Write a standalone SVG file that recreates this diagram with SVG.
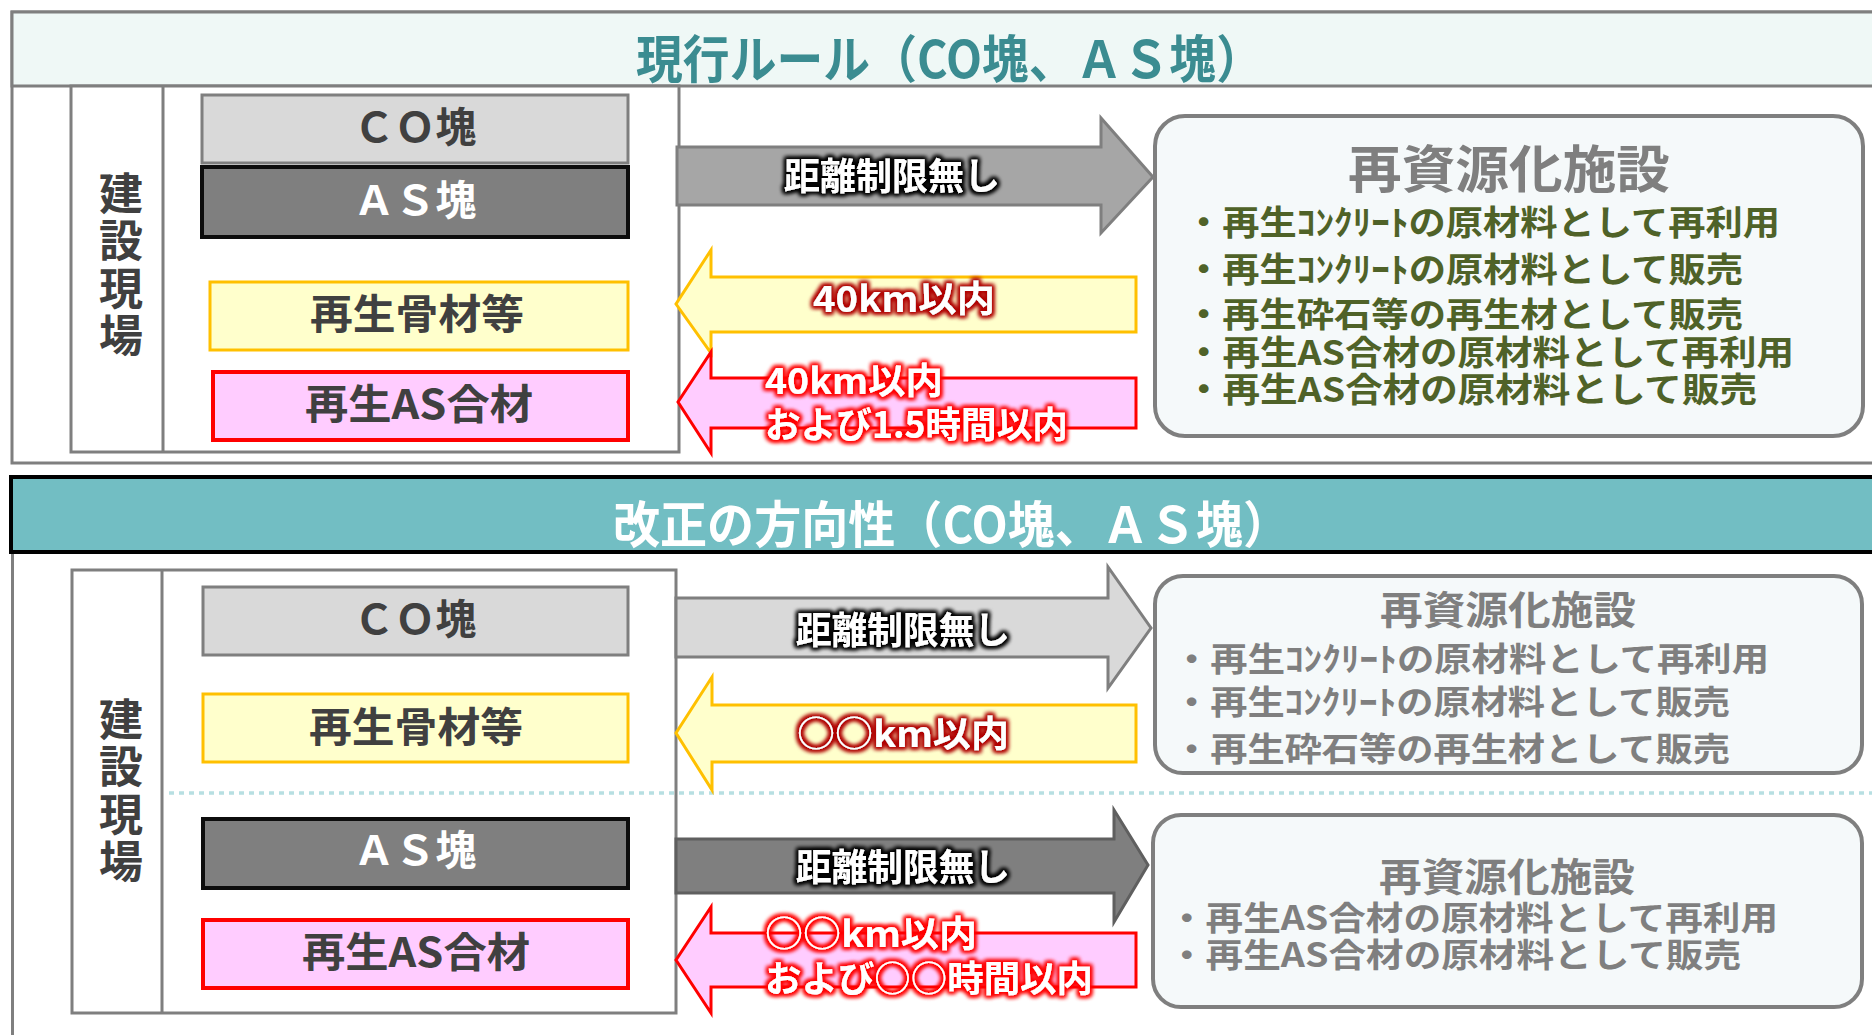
<svg xmlns="http://www.w3.org/2000/svg" width="1872" height="1035" viewBox="0 0 1872 1035">
<defs>
<style>
text{font-family:"Noto Sans CJK JP","Noto Sans",sans-serif;}
.frame{fill:none;stroke:#7f7f7f;stroke-width:3;}
.site{fill:#fff;stroke:#7f7f7f;stroke-width:3;}
.co{fill:#d9d9d9;stroke:#7f7f7f;stroke-width:3;}
.as{fill:#7f7f7f;stroke:#0d0d0d;stroke-width:4;}
.agg{fill:#ffffcc;stroke:#ffc000;stroke-width:3;}
.asm{fill:#ffccff;stroke:#ff0000;stroke-width:4;}
.fac{fill:#f5f9fa;stroke:#7f7f7f;stroke-width:4;}
.lbl{font-size:41px;font-weight:700;fill:#404040;text-anchor:middle;}
.lblw{font-size:41px;font-weight:700;fill:#ffffff;text-anchor:middle;}
.vert{font-size:44px;font-weight:700;fill:#404040;writing-mode:vertical-rl;letter-spacing:3.5px;}
.arrK{font-size:37px;font-weight:700;fill:#ffffff;text-anchor:middle;}
.arrR{font-size:36px;font-weight:700;fill:#ffffff;}
.ftitle{font-weight:700;fill:#7f7f7f;text-anchor:middle;}
.fg{font-size:34px;font-weight:700;fill:#4f6228;}
.fgr{font-size:33px;font-weight:700;fill:#7f7f7f;}
</style>
<filter id="glowK" x="-20%" y="-50%" width="140%" height="200%">
<feMorphology in="SourceAlpha" operator="dilate" radius="2" result="d"/>
<feGaussianBlur in="d" stdDeviation="2.2" result="b"/>
<feFlood flood-color="#000000"/>
<feComposite in2="b" operator="in" result="g"/>
<feMerge><feMergeNode in="g"/><feMergeNode in="g"/><feMergeNode in="SourceGraphic"/></feMerge>
</filter>
<filter id="glowDR" x="-20%" y="-50%" width="140%" height="200%">
<feMorphology in="SourceAlpha" operator="dilate" radius="2" result="d"/>
<feGaussianBlur in="d" stdDeviation="2.2" result="b"/>
<feFlood flood-color="#b00000"/>
<feComposite in2="b" operator="in" result="g"/>
<feMerge><feMergeNode in="g"/><feMergeNode in="g"/><feMergeNode in="SourceGraphic"/></feMerge>
</filter>
<filter id="glowR" x="-20%" y="-50%" width="140%" height="200%">
<feMorphology in="SourceAlpha" operator="dilate" radius="2" result="d"/>
<feGaussianBlur in="d" stdDeviation="2.2" result="b"/>
<feFlood flood-color="#ff0000"/>
<feComposite in2="b" operator="in" result="g"/>
<feMerge><feMergeNode in="g"/><feMergeNode in="g"/><feMergeNode in="SourceGraphic"/></feMerge>
</filter>
</defs>
<rect x="0" y="0" width="1872" height="1035" fill="#ffffff"/>

<!-- Section 1 frame and header -->
<g id="section1-header">
<rect x="12" y="12" width="1880" height="451" class="frame"/>
<rect x="12" y="12" width="1880" height="74" fill="#eff8f6" stroke="#7f7f7f" stroke-width="3"/>
<text x="636" y="78" font-size="51" font-weight="700" fill="#3b8c91" textLength="627" lengthAdjust="spacingAndGlyphs">現行ルール（CO塊、ＡＳ塊）</text>
</g>

<g id="site1">
<rect x="71" y="86" width="608" height="366" class="site"/>
<line x1="163" y1="86" x2="163" y2="452" stroke="#7f7f7f" stroke-width="3"/>
<text class="vert" x="121" y="171">建設現場</text>
</g>
<g id="co1"><rect x="202" y="95" width="426" height="68" class="co"/><text class="lbl" x="415" y="142">ＣＯ塊</text></g>
<g id="as1"><rect x="202" y="167" width="426" height="70" class="as"/><text class="lblw" x="415" y="215">ＡＳ塊</text></g>
<g id="agg1"><rect x="210" y="282" width="418" height="68" class="agg"/><text class="lbl" x="417" y="329" textLength="214" lengthAdjust="spacingAndGlyphs">再生骨材等</text></g>
<g id="asm1"><rect x="213" y="372" width="415" height="68" class="asm"/><text class="lbl" x="419" y="419" textLength="228" lengthAdjust="spacingAndGlyphs">再生AS合材</text></g>

<g id="facility1">
<rect x="1155" y="116" width="708" height="320" rx="30" class="fac"/>
<text class="ftitle" x="1509" y="188" font-size="51" textLength="322" lengthAdjust="spacingAndGlyphs">再資源化施設</text>
<text class="fg" x="1185" y="235" textLength="595" lengthAdjust="spacingAndGlyphs">・再生ｺﾝｸﾘｰﾄの原材料として再利用</text>
<text class="fg" x="1185" y="282" textLength="558" lengthAdjust="spacingAndGlyphs">・再生ｺﾝｸﾘｰﾄの原材料として販売</text>
<text class="fg" x="1185" y="327" textLength="558" lengthAdjust="spacingAndGlyphs">・再生砕石等の再生材として販売</text>
<text class="fg" x="1185" y="365" textLength="609" lengthAdjust="spacingAndGlyphs">・再生AS合材の原材料として再利用</text>
<text class="fg" x="1185" y="402" textLength="572" lengthAdjust="spacingAndGlyphs">・再生AS合材の原材料として販売</text>
</g>

<!-- Section 2 frame and header -->
<g id="section2-header">
<line x1="12.5" y1="552" x2="12.5" y2="1040" stroke="#7f7f7f" stroke-width="3"/>
<rect x="11" y="477" width="1880" height="75" fill="#72bec3" stroke="#000000" stroke-width="4"/>
<text x="613" y="543" font-size="50" font-weight="700" fill="#ffffff" textLength="677" lengthAdjust="spacingAndGlyphs">改正の方向性（CO塊、ＡＳ塊）</text>
</g>

<g id="site2">
<rect x="72" y="570" width="604" height="443" class="site"/>
<line x1="162" y1="570" x2="162" y2="1013" stroke="#7f7f7f" stroke-width="3"/>
<text class="vert" x="121" y="697">建設現場</text>
</g>
<line id="divider" x1="169" y1="793" x2="1872" y2="793" stroke="#b7dfe2" stroke-width="3.5" stroke-dasharray="5 5"/>
<g id="co2"><rect x="203" y="587" width="425" height="68" class="co"/><text class="lbl" x="415" y="634" font-size="39">ＣＯ塊</text></g>
<g id="agg2"><rect x="203" y="694" width="425" height="68" class="agg"/><text class="lbl" x="416" y="742" textLength="214" lengthAdjust="spacingAndGlyphs">再生骨材等</text></g>
<g id="as2"><rect x="203" y="819" width="425" height="69" class="as"/><text class="lblw" x="415" y="865" font-size="39">ＡＳ塊</text></g>
<g id="asm2"><rect x="203" y="920" width="425" height="68" class="asm"/><text class="lbl" x="416" y="967" textLength="228" lengthAdjust="spacingAndGlyphs">再生AS合材</text></g>

<g id="facility2a">
<rect x="1155" y="576" width="707" height="197" rx="28" class="fac"/>
<text class="ftitle" x="1508" y="624" font-size="39" textLength="256" lengthAdjust="spacingAndGlyphs">再資源化施設</text>
<text class="fgr" x="1173" y="671" textLength="596" lengthAdjust="spacingAndGlyphs">・再生ｺﾝｸﾘｰﾄの原材料として再利用</text>
<text class="fgr" x="1173" y="714" textLength="557" lengthAdjust="spacingAndGlyphs">・再生ｺﾝｸﾘｰﾄの原材料として販売</text>
<text class="fgr" x="1173" y="761" textLength="557" lengthAdjust="spacingAndGlyphs">・再生砕石等の再生材として販売</text>
</g>
<g id="facility2b">
<rect x="1153" y="815" width="709" height="192" rx="28" class="fac"/>
<text class="ftitle" x="1507" y="891" font-size="39" textLength="256" lengthAdjust="spacingAndGlyphs">再資源化施設</text>
<text class="fgr" x="1168" y="930" textLength="610" lengthAdjust="spacingAndGlyphs">・再生AS合材の原材料として再利用</text>
<text class="fgr" x="1168" y="967" textLength="573" lengthAdjust="spacingAndGlyphs">・再生AS合材の原材料として販売</text>
</g>

<g id="connectors">
<g id="arrow1-co-as">
<polygon points="677,147 1101,147 1101,118 1153,177 1101,233 1101,205 677,205" fill="#a6a6a6" stroke="#7f7f7f" stroke-width="3" stroke-linejoin="miter"/>
<text class="arrK" x="892" y="190" textLength="216" lengthAdjust="spacingAndGlyphs" filter="url(#glowK)">距離制限無し</text>
</g>
<g id="arrow1-agg">
<polygon points="1136,277 711,277 711,250 676,304 711,353 711,332 1136,332" fill="#ffffcc" stroke="#ffc000" stroke-width="3"/>
<text class="arrR" x="904" y="312" text-anchor="middle" textLength="182" lengthAdjust="spacingAndGlyphs" filter="url(#glowDR)">40km以内</text>
</g>
<g id="arrow1-asm">
<polygon points="1136,378 711,378 711,352 678,402 711,453 711,428 1136,428" fill="#ffccff" stroke="#ff0000" stroke-width="3"/>
<text class="arrR" x="765" y="394" textLength="178" lengthAdjust="spacingAndGlyphs" filter="url(#glowR)">40km以内</text>
<text class="arrR" x="765" y="438" textLength="303" lengthAdjust="spacingAndGlyphs" filter="url(#glowR)">および1.5時間以内</text>
</g>
<g id="arrow2-co">
<polygon points="676,598 1108,598 1108,567 1151,628 1108,688 1108,657 676,657" fill="#d9d9d9" stroke="#7f7f7f" stroke-width="3"/>
<text class="arrK" x="903" y="644" textLength="214" lengthAdjust="spacingAndGlyphs" filter="url(#glowK)">距離制限無し</text>
</g>
<g id="arrow2-agg">
<polygon points="1136,705 712,705 712,677 676,733 712,790 712,762 1136,762" fill="#ffffcc" stroke="#ffc000" stroke-width="3"/>
<text class="arrR" x="903" y="747" text-anchor="middle" textLength="212" lengthAdjust="spacingAndGlyphs" filter="url(#glowDR)">○○km以内</text>
</g>
<g id="arrow2-as">
<polygon points="676,839 1114,839 1114,810 1148,865 1114,922 1114,893 676,893" fill="#7f7f7f" stroke="#5f5f5f" stroke-width="3"/>
<text class="arrK" x="903" y="881" textLength="214" lengthAdjust="spacingAndGlyphs" filter="url(#glowK)">距離制限無し</text>
</g>
<g id="arrow2-asm">
<polygon points="1136,933 711,933 711,907 676,960 711,1013 711,987 1136,987" fill="#ffccff" stroke="#ff0000" stroke-width="3"/>
<text class="arrR" x="765" y="947" textLength="212" lengthAdjust="spacingAndGlyphs" filter="url(#glowR)">○○km以内</text>
<text class="arrR" x="765" y="992" textLength="328" lengthAdjust="spacingAndGlyphs" filter="url(#glowR)">および○○時間以内</text>
</g>
</g>
</svg>
